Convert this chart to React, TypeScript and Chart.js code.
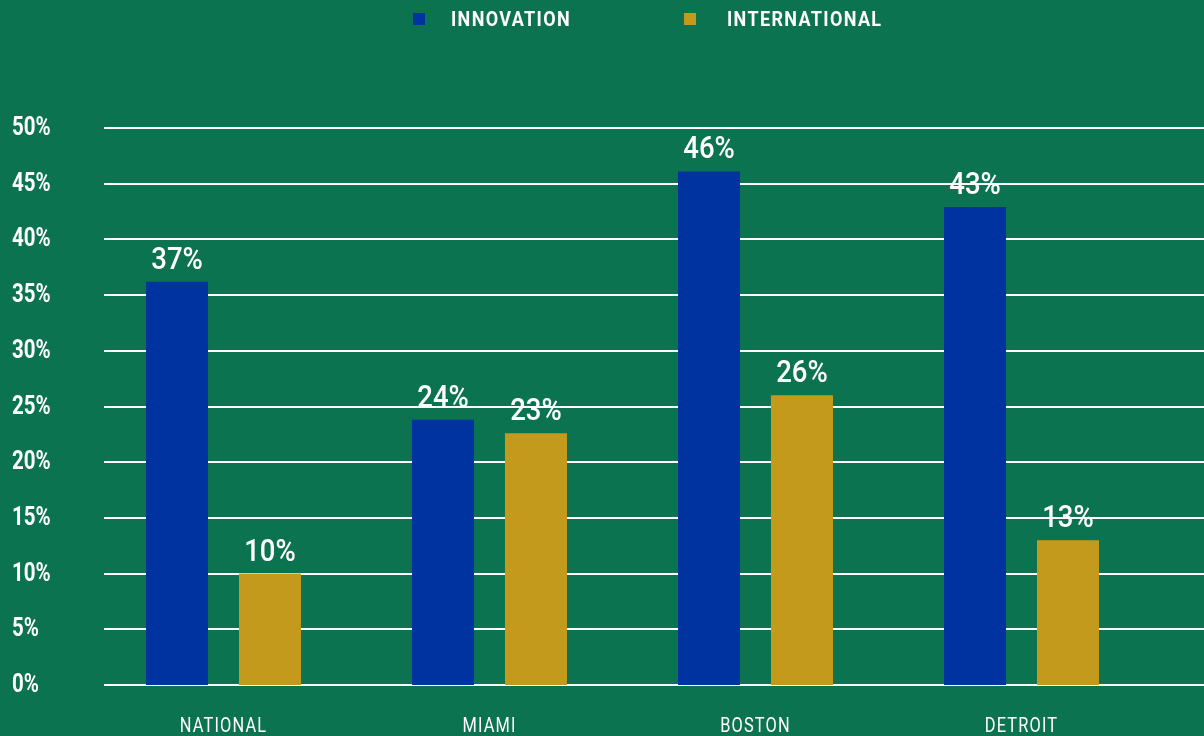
import React, { useEffect, useRef } from "react";
import { Chart, registerables } from "chart.js";

Chart.register(...registerables);

const categories = ["NATIONAL", "MIAMI", "BOSTON", "DETROIT"];
const seriesNames = ["INNOVATION", "INTERNATIONAL"];
const innovation = [36.2, 23.8, 46.1, 42.9];
const international = [10.0, 22.6, 26.0, 13.0];
const innovationLabels = ["37%", "24%", "46%", "43%"];
const internationalLabels = ["10%", "23%", "26%", "13%"];
const yMin = 0;
const yMax = 50;
const yStep = 5;

const BG = "#0C7350";
const BLUE = "#0033A0";
const GOLD = "#C49A1C";
const WHITE = "#FFFFFF";
const FONT = "Roboto, sans-serif";

function drawText(
  ctx: CanvasRenderingContext2D,
  text: string,
  x: number,
  y: number,
  font: string,
  align: CanvasTextAlign,
  baseline: CanvasTextBaseline,
  sx: number,
  spacing: string
) {
  ctx.save();
  ctx.font = font;
  (ctx as any).letterSpacing = spacing;
  ctx.textAlign = align;
  ctx.textBaseline = baseline;
  ctx.fillStyle = WHITE;
  ctx.translate(x, y);
  ctx.scale(sx, 1);
  ctx.fillText(text, 0, 0);
  ctx.restore();
}

const decorPlugin = {
  id: "decor",
  beforeDraw(chart: any) {
    const { ctx, width, height } = chart;
    ctx.save();
    ctx.fillStyle = BG;
    ctx.fillRect(0, 0, width, height);
    ctx.restore();
  },
  beforeDatasetsDraw(chart: any) {
    const { ctx, width } = chart;
    const y = chart.scales.y;
    ctx.save();
    ctx.strokeStyle = WHITE;
    ctx.lineWidth = 2;
    y.ticks.forEach((t: any) => {
      const py = Math.round(y.getPixelForValue(t.value));
      ctx.beginPath();
      ctx.moveTo(104, py);
      ctx.lineTo(width, py);
      ctx.stroke();
      drawText(ctx, `${t.value}%`, 12, py + 1, `bold 25px ${FONT}`, "left", "middle", 0.82, "0px");
    });
    ctx.restore();
  },
  afterDatasetsDraw(chart: any) {
    const { ctx } = chart;
    const labelSets = [innovationLabels, internationalLabels];
    chart.data.datasets.forEach((_d: any, di: number) => {
      const meta = chart.getDatasetMeta(di);
      meta.data.forEach((el: any, i: number) => {
        drawText(ctx, labelSets[di][i], el.x, el.y - 13, `500 32px ${FONT}`, "center", "alphabetic", 0.86, "0px");
      });
    });
    const x = chart.scales.x;
    categories.forEach((c, i) => {
      drawText(ctx, c, x.getPixelForValue(i), 732, `21px ${FONT}`, "center", "alphabetic", 0.78, "1.5px");
    });
    const legendItems = [
      { name: seriesNames[0], color: BLUE, bx: 413, tx: 451 },
      { name: seriesNames[1], color: GOLD, bx: 684, tx: 727 },
    ];
    legendItems.forEach((it) => {
      ctx.save();
      ctx.fillStyle = it.color;
      ctx.fillRect(it.bx, 13, 12, 12);
      ctx.restore();
      drawText(ctx, it.name, it.tx, 26, `bold 20px ${FONT}`, "left", "alphabetic", 0.9, "1.5px");
    });
  },
};

export default function App() {
  const ref = useRef<HTMLCanvasElement | null>(null);
  useEffect(() => {
    document.body.style.margin = "0";
    document.body.style.background = BG;
    const canvas = ref.current!;
    const chart = new Chart(canvas, {
      type: "bar",
      data: {
        labels: categories,
        datasets: [
          { label: seriesNames[0], data: innovation, backgroundColor: BLUE, borderWidth: 0 },
          { label: seriesNames[1], data: international, backgroundColor: GOLD, borderWidth: 0 },
        ],
      },
      options: {
        animation: false,
        responsive: false,
        maintainAspectRatio: false,
        devicePixelRatio: 1,
        layout: { padding: { top: 128, left: 12, right: 49.5, bottom: 0 } },
        datasets: { bar: { categoryPercentage: 0.699, barPercentage: 0.667 } },
        plugins: { legend: { display: false }, tooltip: { enabled: false } },
        scales: {
          x: {
            grid: { display: false },
            border: { display: false },
            ticks: { display: false },
            afterFit: (s: any) => {
              s.height = 51;
            },
          },
          y: {
            min: yMin,
            max: yMax,
            grid: { display: false },
            border: { display: false },
            ticks: { stepSize: yStep, display: false },
            afterFit: (s: any) => {
              s.width = 78.5;
            },
          },
        },
      },
      plugins: [decorPlugin],
    } as any);
    return () => chart.destroy();
  }, []);
  return <canvas ref={ref} width={1204} height={736} style={{ display: "block" }} />;
}
